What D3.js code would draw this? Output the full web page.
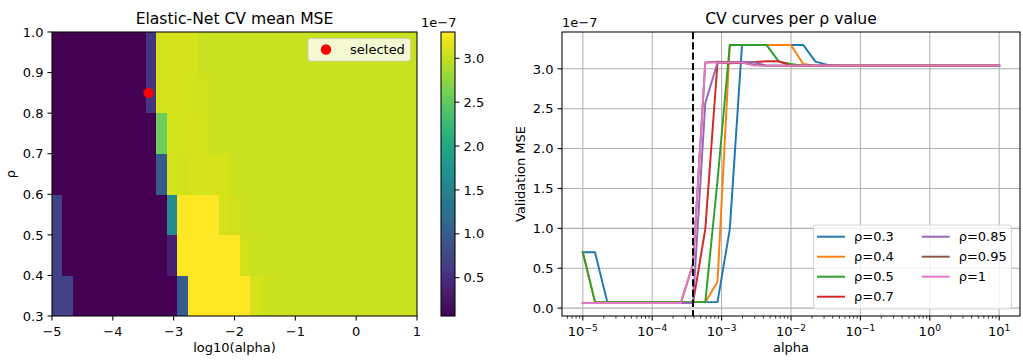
<!DOCTYPE html>
<html>
<head>
<meta charset="utf-8">
<script src="https://cdn.jsdelivr.net/npm/d3@7"></script>
<style>
  body { margin: 0; background: #fff; }
  svg { font-family: "DejaVu Sans", sans-serif; }
</style>
</head>
<body>
<svg id="chart" width="1023" height="363"></svg>
<script>
// log10(alpha) grid used for the CV (35 points, 1e-5 .. 1e1)
const logAlphas = [
  -5.000, -4.824, -4.647, -4.471, -4.294, -4.118, -3.941,
  -3.765, -3.588, -3.412, -3.235, -3.059, -2.882, -2.706,
  -2.529, -2.353, -2.176, -2.000, -1.824, -1.647, -1.471,
  -1.294, -1.118, -0.941, -0.765, -0.588, -0.412, -0.235,
  -0.059, 0.118, 0.294, 0.471, 0.647, 0.824, 1.000];

const rhos = [0.3, 0.4, 0.5, 0.7, 0.85, 0.95, 1];
const rhoLabels = ["ρ=0.3", "ρ=0.4", "ρ=0.5", "ρ=0.7", "ρ=0.85", "ρ=0.95", "ρ=1"];

// mean validation MSE, in units of 1e-7, one array per rho
const mseRho03 = [
  0.70, 0.70, 0.075, 0.075, 0.075, 0.075, 0.075,
  0.075, 0.075, 0.075, 0.075, 0.075, 0.99, 3.30,
  3.30, 3.30, 3.30, 3.30, 3.30, 3.09, 3.05,
  3.04, 3.04, 3.04, 3.04, 3.04, 3.04, 3.04,
  3.04, 3.04, 3.04, 3.04, 3.04, 3.04, 3.04];
const mseRho04 = [
  0.70, 0.075, 0.075, 0.075, 0.075, 0.075, 0.075,
  0.075, 0.075, 0.075, 0.075, 0.33, 3.30, 3.30,
  3.30, 3.30, 3.30, 3.30, 3.06, 3.04, 3.04,
  3.04, 3.04, 3.04, 3.04, 3.04, 3.04, 3.04,
  3.04, 3.04, 3.04, 3.04, 3.04, 3.04, 3.04];
const mseRho05 = [
  0.70, 0.075, 0.075, 0.075, 0.075, 0.075, 0.075,
  0.075, 0.075, 0.075, 0.075, 1.60, 3.30, 3.30,
  3.30, 3.30, 3.09, 3.06, 3.04, 3.04, 3.04,
  3.04, 3.04, 3.04, 3.04, 3.04, 3.04, 3.04,
  3.04, 3.04, 3.04, 3.04, 3.04, 3.04, 3.04];
const mseRho07 = [
  0.066, 0.066, 0.066, 0.066, 0.066, 0.066, 0.066,
  0.066, 0.066, 0.066, 0.99, 3.08, 3.07, 3.075,
  3.085, 3.095, 3.095, 3.04, 3.04, 3.04, 3.04,
  3.04, 3.04, 3.04, 3.04, 3.04, 3.04, 3.04,
  3.04, 3.04, 3.04, 3.04, 3.04, 3.04, 3.04];
const mseRho085 = [
  0.064, 0.064, 0.064, 0.064, 0.064, 0.064, 0.064,
  0.064, 0.064, 0.063, 2.57, 3.08, 3.08, 3.09,
  3.08, 3.04, 3.04, 3.04, 3.04, 3.04, 3.04,
  3.04, 3.04, 3.04, 3.04, 3.04, 3.04, 3.04,
  3.04, 3.04, 3.04, 3.04, 3.04, 3.04, 3.04];
const mseRho095 = [
  0.065, 0.065, 0.065, 0.065, 0.065, 0.065, 0.065,
  0.065, 0.065, 0.55, 3.08, 3.09, 3.085, 3.08,
  3.05, 3.04, 3.04, 3.04, 3.04, 3.04, 3.04,
  3.04, 3.04, 3.04, 3.04, 3.04, 3.04, 3.04,
  3.04, 3.04, 3.04, 3.04, 3.04, 3.04, 3.04];
const mseRho1 = [
  0.064, 0.064, 0.064, 0.064, 0.064, 0.064, 0.064,
  0.064, 0.064, 0.56, 3.08, 3.08, 3.08, 3.08,
  3.04, 3.04, 3.04, 3.04, 3.04, 3.04, 3.04,
  3.04, 3.04, 3.04, 3.04, 3.04, 3.04, 3.04,
  3.04, 3.04, 3.04, 3.04, 3.04, 3.04, 3.04];

const seriesColors = ["#1f77b4", "#ff7f0e", "#2ca02c", "#d62728", "#9467bd", "#8c564b", "#e377c2"];

const selectedLogAlpha = -3.412;
const selectedRho = 0.85;

const heatXTicks = [-5, -4, -3, -2, -1, 0, 1];
const heatYTicks = [0.3, 0.4, 0.5, 0.6, 0.7, 0.8, 0.9, 1.0];
const cbarTicks = [0.5, 1.0, 1.5, 2.0, 2.5, 3.0];
const mseTicks = [0, 0.5, 1.0, 1.5, 2.0, 2.5, 3.0];

const mseByRho = [mseRho03, mseRho04, mseRho05, mseRho07, mseRho085, mseRho095, mseRho1];

const svg = d3.select("#chart");
svg.append("rect").attr("width", 1023).attr("height", 363).attr("fill", "#fff");

const FS = 13, TITLE_FS = 15.6, TICK = 4.5, MINOR = 2.6, LW = 1.04;

// ---------- left: heatmap ----------
const heat = { left: 52, right: 417, top: 32, bottom: 316 };

const allVals = mseByRho.flat();
const vmin = d3.min(allVals), vmax = d3.max(allVals);
const color = d3.scaleSequential(d3.interpolateViridis).domain([vmin, vmax]);

const hx = d3.scaleLinear().domain([-5, 1]).range([heat.left, heat.right]);
const hy = d3.scaleLinear().domain([0.3, 1.0]).range([heat.bottom, heat.top]);
const colBand = d3.scaleBand().domain(d3.range(logAlphas.length)).range([heat.left, heat.right]);
// reversed range: rowBand(rho) gives the top edge of that row
const rowBand = d3.scaleBand().domain(rhos).range([heat.bottom, heat.top]);

const cells = [];
mseByRho.forEach((row, ri) => row.forEach((v, ci) => cells.push({ rho: rhos[ri], ci, v })));

svg.append("g").selectAll("rect").data(cells).join("rect")
  .attr("x", d => colBand(d.ci))
  .attr("y", d => rowBand(d.rho))
  .attr("width", colBand.bandwidth() + 0.3)
  .attr("height", rowBand.bandwidth() + 0.3)
  .attr("fill", d => color(d.v))
  .attr("shape-rendering", "crispEdges");

svg.append("circle")
  .attr("cx", hx(selectedLogAlpha)).attr("cy", hy(selectedRho)).attr("r", 5.2)
  .attr("fill", "#ff0000");

function frame(b) {
  svg.append("rect")
    .attr("x", b.left).attr("y", b.top)
    .attr("width", b.right - b.left).attr("height", b.bottom - b.top)
    .attr("fill", "none").attr("stroke", "#000").attr("stroke-width", LW);
}

function bottomTicks(scale, ticks, b, fmt) {
  const g = svg.append("g");
  ticks.forEach(t => {
    const x = scale(t);
    g.append("line").attr("x1", x).attr("x2", x).attr("y1", b.bottom).attr("y2", b.bottom + TICK)
      .attr("stroke", "#000").attr("stroke-width", LW);
    fmt(g.append("text").attr("x", x).attr("y", b.bottom + 19.5)
      .attr("text-anchor", "middle").attr("font-size", FS), t);
  });
}

function leftTicks(scale, ticks, b, fmt) {
  const g = svg.append("g");
  ticks.forEach(t => {
    const y = scale(t);
    g.append("line").attr("x1", b.left - TICK).attr("x2", b.left).attr("y1", y).attr("y2", y)
      .attr("stroke", "#000").attr("stroke-width", LW);
    g.append("text").attr("x", b.left - TICK - 4).attr("y", y + 4.7)
      .attr("text-anchor", "end").attr("font-size", FS).text(fmt(t));
  });
}

const minus = s => s.replace("-", "\u2212");

frame(heat);
bottomTicks(hx, heatXTicks, heat, (el, t) => el.text(minus(String(t))));
leftTicks(hy, heatYTicks, heat, t => t.toFixed(1));

svg.append("text").attr("x", (heat.left + heat.right) / 2).attr("y", 24)
  .attr("text-anchor", "middle").attr("font-size", TITLE_FS).text("Elastic-Net CV mean MSE");
svg.append("text").attr("x", (heat.left + heat.right) / 2).attr("y", 352)
  .attr("text-anchor", "middle").attr("font-size", FS).text("log10(alpha)");
svg.append("text").attr("transform", `translate(15,${(heat.top + heat.bottom) / 2}) rotate(-90)`)
  .attr("text-anchor", "middle").attr("font-size", FS).text("ρ");

// legend "selected"
const lg = svg.append("g");
lg.append("rect").attr("x", 308).attr("y", 38.5).attr("width", 102.5).attr("height", 22.5)
  .attr("rx", 2.6).attr("fill", "#fff").attr("fill-opacity", 0.8)
  .attr("stroke", "#ccc").attr("stroke-opacity", 0.8).attr("stroke-width", LW);
lg.append("circle").attr("cx", 326).attr("cy", 49.5).attr("r", 5.2).attr("fill", "#ff0000");
lg.append("text").attr("x", 350).attr("y", 54).attr("font-size", FS).text("selected");

// ---------- colorbar ----------
const cb = { left: 441, right: 455, top: 32, bottom: 316 };
const cy = d3.scaleLinear().domain([vmin, vmax]).range([cb.bottom, cb.top]);
const grad = svg.append("defs").append("linearGradient").attr("id", "vir")
  .attr("x1", 0).attr("y1", 1).attr("x2", 0).attr("y2", 0);
d3.range(0, 1.0001, 0.02).forEach(t => {
  grad.append("stop").attr("offset", t).attr("stop-color", d3.interpolateViridis(t));
});
svg.append("rect").attr("x", cb.left).attr("y", cb.top)
  .attr("width", cb.right - cb.left).attr("height", cb.bottom - cb.top).attr("fill", "url(#vir)");
frame(cb);
cbarTicks.forEach(t => {
  const y = cy(t);
  svg.append("line").attr("x1", cb.right).attr("x2", cb.right + TICK).attr("y1", y).attr("y2", y)
    .attr("stroke", "#000").attr("stroke-width", LW);
  svg.append("text").attr("x", cb.right + TICK + 4).attr("y", y + 4.7)
    .attr("font-size", FS).text(t.toFixed(1));
});
svg.append("text").attr("x", 421).attr("y", 27).attr("font-size", FS).text("1e\u22127");

// ---------- right: CV curves ----------
const pr = { left: 562, right: 1020, top: 32, bottom: 316 };
const lo = d3.min(allVals), hi = d3.max(allVals), pad = (hi - lo) * 0.05;
const xr = d3.scaleLog().domain([Math.pow(10, -5.3), Math.pow(10, 1.3)]).range([pr.left, pr.right]);
const yr = d3.scaleLinear().domain([lo - pad, hi + pad]).range([pr.bottom, pr.top]);

const allTicks = xr.ticks();
const majorX = allTicks.filter(t => Math.abs(Math.log10(t) - Math.round(Math.log10(t))) < 1e-9);
const minorX = allTicks.filter(t => !majorX.includes(t));

// grid
const grid = svg.append("g").attr("stroke", "#b0b0b0").attr("stroke-width", LW);
majorX.forEach(t => grid.append("line").attr("x1", xr(t)).attr("x2", xr(t)).attr("y1", pr.top).attr("y2", pr.bottom));
mseTicks.forEach(t => grid.append("line").attr("x1", pr.left).attr("x2", pr.right).attr("y1", yr(t)).attr("y2", yr(t)));

svg.append("defs").append("clipPath").attr("id", "clipR").append("rect")
  .attr("x", pr.left).attr("y", pr.top).attr("width", pr.right - pr.left).attr("height", pr.bottom - pr.top);

const line = d3.line().x((d, i) => xr(Math.pow(10, logAlphas[i]))).y(d => yr(d));
svg.append("g").attr("clip-path", "url(#clipR)").selectAll("path").data(mseByRho).join("path")
  .attr("d", d => line(d))
  .attr("fill", "none").attr("stroke", (d, i) => seriesColors[i])
  .attr("stroke-width", 1.95).attr("stroke-linejoin", "round").attr("stroke-linecap", "square");

svg.append("line")
  .attr("x1", xr(Math.pow(10, selectedLogAlpha))).attr("x2", xr(Math.pow(10, selectedLogAlpha)))
  .attr("y1", pr.top).attr("y2", pr.bottom)
  .attr("stroke", "#000").attr("stroke-width", 1.95).attr("stroke-dasharray", "7.2,3.1");

frame(pr);

// x ticks (log)
majorX.forEach(t => {
  const x = xr(t);
  svg.append("line").attr("x1", x).attr("x2", x).attr("y1", pr.bottom).attr("y2", pr.bottom + TICK)
    .attr("stroke", "#000").attr("stroke-width", LW);
  const txt = svg.append("text").attr("x", x).attr("y", 336).attr("text-anchor", "middle").attr("font-size", FS);
  txt.append("tspan").text("10");
  txt.append("tspan").attr("dy", -5.2).attr("font-size", 9.1)
    .text(minus(String(Math.round(Math.log10(t)))));
});
minorX.forEach(t => {
  const x = xr(t);
  svg.append("line").attr("x1", x).attr("x2", x).attr("y1", pr.bottom).attr("y2", pr.bottom + MINOR)
    .attr("stroke", "#000").attr("stroke-width", 0.78);
});
leftTicks(yr, mseTicks, pr, t => t.toFixed(1));

svg.append("text").attr("x", (pr.left + pr.right) / 2).attr("y", 24)
  .attr("text-anchor", "middle").attr("font-size", TITLE_FS).text("CV curves per ρ value");
svg.append("text").attr("x", (pr.left + pr.right) / 2).attr("y", 352)
  .attr("text-anchor", "middle").attr("font-size", FS).text("alpha");
svg.append("text").attr("transform", `translate(525,${(pr.top + pr.bottom) / 2}) rotate(-90)`)
  .attr("text-anchor", "middle").attr("font-size", FS).text("Validation MSE");
svg.append("text").attr("x", 562).attr("y", 27).attr("font-size", FS).text("1e\u22127");

// legend (two columns)
const leg = svg.append("g");
leg.append("rect").attr("x", 813.5).attr("y", 225).attr("width", 198).attr("height", 84)
  .attr("rx", 2.6).attr("fill", "#fff").attr("fill-opacity", 0.8)
  .attr("stroke", "#ccc").attr("stroke-opacity", 0.8).attr("stroke-width", LW);
rhoLabels.forEach((lab, i) => {
  const col = i < 4 ? 0 : 1, row = i < 4 ? i : i - 4;
  const x0 = col === 0 ? 817 : 921.7;
  const y0 = 236.7 + row * 20;
  leg.append("line").attr("x1", x0).attr("x2", x0 + 28).attr("y1", y0).attr("y2", y0)
    .attr("stroke", seriesColors[i]).attr("stroke-width", 1.95);
  leg.append("text").attr("x", x0 + 37).attr("y", y0 + 4.7).attr("font-size", FS).text(lab);
});
</script>
</body>
</html>
